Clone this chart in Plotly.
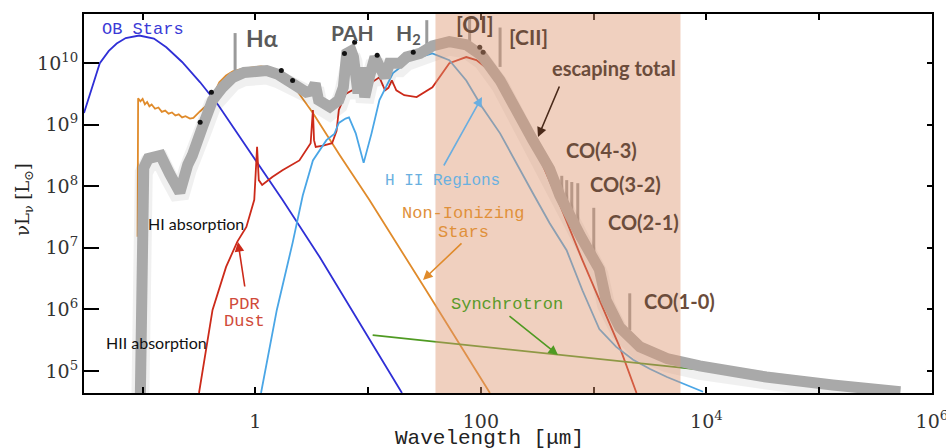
import plotly.graph_objects as go

# ---------------- data (log10 wavelength [um], log10 nuLnu [Lsun]) ----------------
ob_lx = [-1.52, -1.45, -1.38, -1.30, -1.23, -1.15, -1.03, -0.90, -0.79, -0.65, -0.49, -0.33, -0.10, 0.24, 0.57, 0.90, 1.30]
ob_ly = [9.19, 9.60, 10.00, 10.20, 10.32, 10.41, 10.45, 10.40, 10.26, 10.02, 9.69, 9.32, 8.70, 7.78, 6.85, 5.85, 4.64]

star_lx = [-1.045, -1.04, -1.02, -1.00, -0.98, -0.96, -0.94, -0.92, -0.89, -0.86, -0.83, -0.80, -0.77, -0.74, -0.71,
           -0.68, -0.65, -0.62, -0.58, -0.55, -0.49, -0.43, -0.38, -0.32, -0.26, -0.20, -0.12, -0.05, 0.05, 0.15,
           0.25, 0.35, 0.43, 0.51, 0.75, 1.01, 1.50, 2.08]
star_ly = [7.18, 9.43, 9.38, 9.42, 9.33, 9.37, 9.30, 9.33, 9.26, 9.28, 9.21, 9.23, 9.18, 9.20, 9.15,
           9.17, 9.12, 9.14, 9.10, 9.11, 9.22, 9.32, 9.45, 9.69, 9.80, 9.87, 9.91, 9.93, 9.95, 9.92,
           9.80, 9.60, 9.40, 9.19, 8.50, 7.78, 6.35, 4.64]

pdr_lx = [-0.50, -0.38, -0.26, -0.16, -0.08, -0.01, 0.015, 0.03, 0.06, 0.15, 0.24, 0.39, 0.49, 0.51, 0.52, 0.535,
          0.60, 0.68, 0.72, 0.74, 0.80, 0.90, 1.00, 1.10, 1.15, 1.18, 1.21, 1.25, 1.32, 1.43, 1.57, 1.72, 1.87,
          1.96, 2.10, 2.30, 2.50, 2.70, 2.90, 3.08, 3.23, 3.38]
pdr_ly = [4.64, 5.99, 6.69, 7.10, 7.34, 7.78, 8.64, 8.10, 8.02, 8.15, 8.26, 8.42, 8.70, 9.24, 8.75, 8.64,
          8.66, 8.70, 8.90, 9.24, 9.50, 9.60, 9.65, 9.77, 9.56, 9.60, 9.72, 9.56, 9.48, 9.45, 9.61, 10.00, 10.10,
          10.05, 9.85, 9.30, 8.55, 7.70, 6.80, 6.04, 5.39, 4.64]

hii_lx = [0.05, 0.19, 0.33, 0.42, 0.51, 0.63, 0.70, 0.74, 0.80, 0.83, 0.89, 0.96, 1.03, 1.10, 1.22, 1.37, 1.57,
          1.72, 1.87, 2.01, 2.17, 2.31, 2.46, 2.61, 2.76, 2.90, 3.05, 3.20, 3.35, 3.50, 3.65, 3.97]
hii_ly = [4.64, 5.99, 7.08, 7.85, 8.42, 8.75, 8.85, 9.03, 9.10, 9.12, 8.86, 8.38, 8.86, 9.40, 9.84, 10.05, 10.16,
          10.05, 9.72, 9.29, 8.86, 8.38, 7.89, 7.40, 6.96, 6.31, 5.68, 5.39, 5.18, 5.03, 4.90, 4.66]

sync_lx = [1.04, 3.05, 5.50]
sync_ly = [5.58, 5.19, 4.72]

total_lx = [-1.02, -1.015, -0.99, -0.95, -0.84, -0.76, -0.67, -0.60, -0.56, -0.47, -0.38, -0.29, -0.20, -0.10,
            0.00, 0.10, 0.20, 0.33, 0.45, 0.50, 0.53, 0.56, 0.66, 0.74, 0.78, 0.81, 0.85, 0.87, 0.91, 0.94, 0.97,
            1.01, 1.06, 1.10, 1.15, 1.19, 1.28, 1.34, 1.46, 1.57, 1.72, 1.87, 2.01, 2.17, 2.31, 2.46, 2.61, 2.70,
            2.88, 3.05, 3.11, 3.23, 3.41, 3.65, 3.94, 4.53, 5.12, 5.72]
total_ly = [4.64, 7.80, 8.30, 8.45, 8.50, 8.20, 7.90, 8.35, 8.50, 8.96, 9.40, 9.61, 9.77, 9.85,
            9.88, 9.88, 9.82, 9.69, 9.53, 9.55, 9.67, 9.40, 9.29, 9.40, 9.61, 10.16, 10.20, 10.10, 9.51, 9.93, 9.45,
            9.77, 10.10, 9.95, 9.77, 10.00, 10.00, 10.10, 10.16, 10.28, 10.35, 10.30, 10.12, 9.72, 9.22, 8.75, 8.28, 7.85,
            7.20, 6.65, 6.15, 5.71, 5.39, 5.20, 5.08, 4.90, 4.77, 4.66]

obs_lx = [-0.49, -0.39, 0.23, 0.33, 0.79, 0.88, 1.08, 1.40, 1.99, 2.02]
obs_ly = [9.04, 9.53, 9.88, 9.72, 10.16, 10.34, 10.13, 10.18, 10.26, 10.18]

# emission lines: log wavelength, bottom, top
line_lx = [-0.18, 1.52, 1.90, 2.17, 2.655, 2.717, 2.761, 2.806, 2.859, 3.001, 3.320]
line_lo = [9.85, 10.25, 10.30, 9.94, 7.95, 7.80, 7.60, 7.40, 7.13, 6.69, 5.66]
line_hi = [10.49, 10.70, 10.75, 10.58, 8.21, 8.17, 8.10, 8.07, 8.05, 7.65, 6.26]

band_lx = [1.597, 3.77]   # shaded escaping band

x_range = [-1.52, 6.0005]
y_range = [4.64, 10.8]
xtick_vals = [0.1, 1, 10, 100, 1e3, 1e4, 1e5, 1e6]
xtick_text = ["", "1", "", "100", "", "10<sup>4</sup>", "", "10<sup>6</sup>"]
ytick_vals = [1e5, 1e6, 1e7, 1e8, 1e9, 1e10]
ytick_text = ["10<sup>5</sup>", "10<sup>6</sup>", "10<sup>7</sup>", "10<sup>8</sup>", "10<sup>9</sup>", "10<sup>10</sup>"]


def p(v):
    return [10 ** a for a in v]


fig = go.Figure()

def add_line(lx, ly, color, width=1.8):
    fig.add_trace(go.Scatter(x=p(lx), y=p(ly), mode="lines", line=dict(color=color, width=width),
                             hoverinfo="skip", showlegend=False))

add_line(ob_lx, ob_ly, "#2f2fd6")
add_line(star_lx, star_ly, "#e08b2b")
add_line(pdr_lx, pdr_ly, "#cc2a1a")
add_line(hii_lx, hii_ly, "#4aa6e6")
add_line(sync_lx, sync_ly, "#4f9a22")

# emission lines
for lx, lo, hi in zip(line_lx, line_lo, line_hi):
    fig.add_trace(go.Scatter(x=[10 ** lx, 10 ** lx], y=[10 ** lo, 10 ** hi], mode="lines",
                             line=dict(color="#9a9a9a", width=3), hoverinfo="skip", showlegend=False))

# total: soft shadow + thick gray
fig.add_trace(go.Scatter(x=p(total_lx), y=[10 ** (a - 0.08) for a in total_ly], mode="lines",
                         line=dict(color="rgba(0,0,0,0.06)", width=18), hoverinfo="skip", showlegend=False))
fig.add_trace(go.Scatter(x=p(total_lx), y=p(total_ly), mode="lines",
                         line=dict(color="#a9a9a9", width=11), hoverinfo="skip", showlegend=False))
fig.add_trace(go.Scatter(x=p(obs_lx), y=p(obs_ly), mode="markers",
                         marker=dict(color="#111111", size=5), hoverinfo="skip", showlegend=False))

# dummy trace for right-hand axis ticks
fig.add_trace(go.Scatter(x=[1], y=[1e6], yaxis="y2", mode="markers", marker=dict(opacity=0),
                         hoverinfo="skip", showlegend=False))

fig.add_shape(type="rect", xref="x", yref="paper", x0=10 ** band_lx[0], x1=10 ** band_lx[1], y0=0, y1=1,
              fillcolor="rgb(222,150,112)", opacity=0.45, line=dict(width=0), layer="above")

L, R, T, B = 84, 932, 14, 393
W, H = R - L, B - T

def px(x):
    return (x - L) / W

def py(y):
    return (B - y) / H

mono = "Liberation Mono"
gill = "Lato"
ann = []

def text(s, x, y, color, size, family, bold=False):
    ann.append(dict(text=(f"<b>{s}</b>" if bold else s), x=px(x), y=py(y), xref="paper", yref="paper",
                    showarrow=False, xanchor="center", yanchor="middle",
                    font=dict(color=color, size=size, family=family)))

def arrow(tx, ty, hx, hy, color):
    ann.append(dict(text="", x=px(hx), y=py(hy), xref="paper", yref="paper", showarrow=True,
                    ax=tx - hx, ay=ty - hy, arrowhead=2, arrowsize=1.2, arrowwidth=1.6, arrowcolor=color))

text("OB Stars", 143, 29, "#3a3ad6", 17, mono)
text("H II Regions", 442, 181, "#6ab0e0", 16, mono)
text("Non-Ionizing", 463, 213, "#e0903a", 17, mono)
text("Stars", 463, 232, "#e0903a", 17, mono)
text("Synchrotron", 507, 304, "#5a9a2a", 17, mono)
text("PDR", 244, 304, "#d04a3a", 17, mono)
text("Dust", 244, 321, "#d04a3a", 17, mono)
text("HI absorption", 196, 223, "#111111", 16, gill)
text("HII absorption", 156, 342, "#111111", 16, gill)
text("Hα", 262, 38, "#5a5a5a", 23, gill, True)
text("PAH", 352, 32, "#5a5a5a", 21, gill, True)
text("H<sub>2</sub>", 408, 34, "#5a5a5a", 21, gill, True)
text("[OI]", 475, 25, "#6b4c3b", 22, gill, True)
text("[CII]", 528, 37, "#6b4c3b", 21, gill, True)
text("escaping total", 614, 68, "#6b4c3b", 20, gill, True)
text("CO(4-3)", 601, 150, "#6b4c3b", 20, gill, True)
text("CO(3-2)", 625, 184, "#6b4c3b", 20, gill, True)
text("CO(2-1)", 643, 222, "#6b4c3b", 20, gill, True)
text("CO(1-0)", 679, 301, "#6b4c3b", 20, gill, True)

arrow(443, 167, 482, 97, "#6aaee0")
arrow(463, 242, 423, 280, "#e08b2b")
arrow(508, 315, 558, 355, "#4f9a22")
arrow(245, 288, 238, 242, "#cc2a1a")
arrow(560, 85, 538, 137, "#4a2a1a")

ann.append(dict(text="Wavelength [μm]", x=px(489), y=py(438), xref="paper", yref="paper", showarrow=False,
                xanchor="center", yanchor="middle", font=dict(family=mono, size=21, color="#222")))
ann.append(dict(text="νL<sub>ν</sub> [L<sub>⊙</sub>]", x=px(24), y=py(200), xref="paper", yref="paper",
                showarrow=False, textangle=-90, xanchor="center", yanchor="middle",
                font=dict(family="DejaVu Serif", size=18, color="#222")))

fig.update_layout(
    width=946, height=448,
    margin=dict(l=L, r=946 - R, t=T, b=448 - B, autoexpand=False),
    paper_bgcolor="white", plot_bgcolor="white",
    showlegend=False,
    annotations=ann,
    xaxis=dict(type="log", range=x_range, showgrid=False, zeroline=False, automargin=False,
               showline=True, linecolor="black", linewidth=2, mirror="ticks",
               ticks="inside", ticklen=6, tickwidth=1.5, tickcolor="black",
               tickvals=xtick_vals, ticktext=xtick_text, ticklabelstandoff=10,
               ticklabeloverflow="allow",
               tickfont=dict(family="DejaVu Serif", size=19, color="#333")),
    yaxis=dict(type="log", range=y_range, showgrid=False, zeroline=False, automargin=False,
               showline=True, linecolor="black", linewidth=2, mirror=True,
               ticks="inside", ticklen=15, tickwidth=2, tickcolor="black",
               tickvals=ytick_vals, ticktext=ytick_text, ticklabeloverflow="allow",
               tickfont=dict(family="DejaVu Serif", size=19, color="#333")),
    yaxis2=dict(type="log", range=y_range, overlaying="y", side="right", showgrid=False, zeroline=False,
                automargin=False, showline=False, ticks="inside", ticklen=5, tickwidth=1.5, tickcolor="black",
                tickvals=ytick_vals, showticklabels=False),
)

fig.write_html("out.html", config={"displayModeBar": False},
               post_script="document.body.style.margin='0px';document.body.style.overflow='hidden';")
